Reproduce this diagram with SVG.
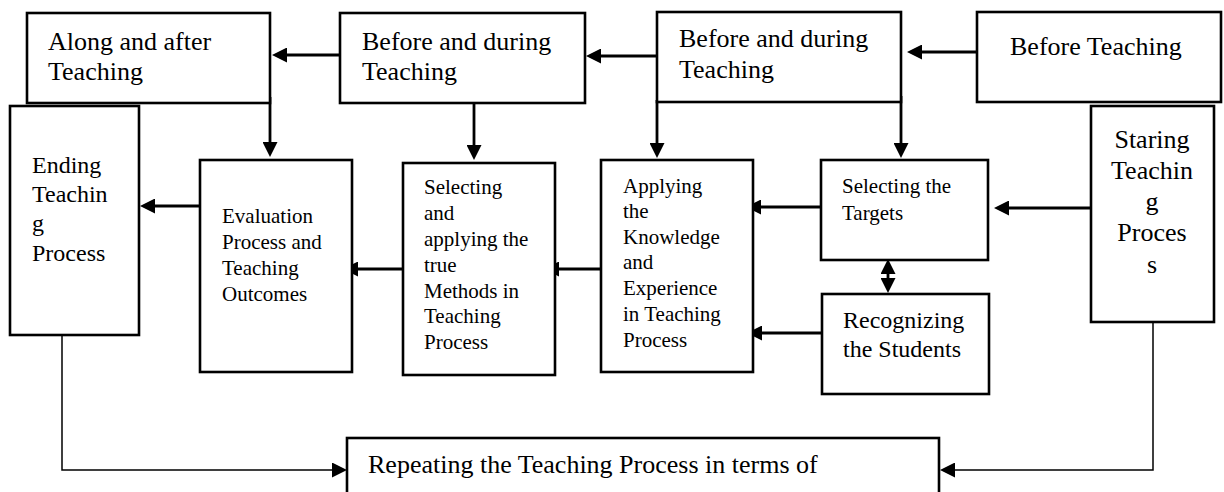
<svg xmlns="http://www.w3.org/2000/svg" width="1224" height="492" viewBox="0 0 1224 492">
<style>
.box{fill:#fff;stroke:#000;stroke-width:2.6}
.t{font-family:"Liberation Serif","Times New Roman",serif;fill:#000}
.big{font-size:26px}
.mid{font-size:24px}
.sm{font-size:21px}
.c{fill:none;stroke:#000;stroke-width:2.8}
.thin{fill:none;stroke:#000;stroke-width:1.5}
</style>
<defs>
<marker id="ah" markerUnits="userSpaceOnUse" markerWidth="15" markerHeight="15" viewBox="0 0 15 15" refX="10" refY="7.5" orient="auto-start-reverse"><path d="M0,0 L15,7.5 L0,15 z" fill="#000"/></marker>
</defs>
<rect width="1224" height="492" fill="#fff"/>
<g id="connectors">
<line class="c" x1="977" y1="52" x2="912" y2="52" marker-end="url(#ah)"/>
<line class="c" x1="657" y1="56" x2="591" y2="56" marker-end="url(#ah)"/>
<line class="c" x1="340" y1="55" x2="277" y2="55" marker-end="url(#ah)"/>
<line class="c" x1="270" y1="97" x2="270" y2="152" marker-end="url(#ah)"/>
<line class="c" x1="474" y1="99" x2="474" y2="155" marker-end="url(#ah)"/>
<line class="c" x1="657" y1="100" x2="657" y2="153" marker-end="url(#ah)"/>
<line class="c" x1="901" y1="96" x2="901" y2="153" marker-end="url(#ah)"/>
<line class="c" x1="1091" y1="208" x2="999" y2="208" marker-end="url(#ah)"/>
<line class="c" x1="821" y1="207" x2="751" y2="207" marker-end="url(#ah)"/>
<line class="c" x1="822" y1="333" x2="752" y2="333" marker-end="url(#ah)"/>
<line class="c" x1="601" y1="269" x2="549" y2="269" marker-end="url(#ah)"/>
<line class="c" x1="403" y1="269" x2="348" y2="269" marker-end="url(#ah)"/>
<line class="c" x1="200" y1="206" x2="145" y2="206" marker-end="url(#ah)"/>
<line class="c" x1="888" y1="264" x2="888" y2="288" marker-start="url(#ah)" marker-end="url(#ah)"/>
<polyline class="thin" points="62,335 62,470 342,470" marker-end="url(#ah)"/>
<polyline class="thin" points="1153,322 1153,470 945,470" marker-end="url(#ah)"/>
</g>
<g id="along-after">
<rect class="box" x="27" y="13" width="243" height="90"/>
<text class="t big" x="48" y="50">Along and after</text>
<text class="t big" x="48" y="80">Teaching</text>
</g>
<g id="before-during-1">
<rect class="box" x="340" y="13" width="245" height="90"/>
<text class="t big" x="362" y="50">Before and during</text>
<text class="t big" x="362" y="80">Teaching</text>
</g>
<g id="before-during-2">
<rect class="box" x="657" y="12" width="244" height="90"/>
<text class="t big" x="679" y="47">Before and during</text>
<text class="t big" x="679" y="78">Teaching</text>
</g>
<g id="before-teaching">
<rect class="box" x="977" y="12" width="244" height="90"/>
<text class="t big" x="1010" y="55">Before Teaching</text>
</g>
<g id="ending">
<rect class="box" x="10" y="106" width="129" height="229"/>
<text class="t mid" x="32" y="173">Ending</text>
<text class="t mid" x="32" y="202">Teachin</text>
<text class="t mid" x="32" y="231">g</text>
<text class="t mid" x="32" y="261">Process</text>
</g>
<g id="evaluation">
<rect class="box" x="200" y="160" width="152" height="212"/>
<text class="t sm" x="222" y="223">Evaluation</text>
<text class="t sm" x="222" y="249">Process and</text>
<text class="t sm" x="222" y="275">Teaching</text>
<text class="t sm" x="222" y="301">Outcomes</text>
</g>
<g id="selecting-methods">
<rect class="box" x="403" y="163" width="152" height="212"/>
<text class="t sm" x="424" y="194">Selecting</text>
<text class="t sm" x="424" y="220">and</text>
<text class="t sm" x="424" y="246">applying the</text>
<text class="t sm" x="424" y="272">true</text>
<text class="t sm" x="424" y="298">Methods in</text>
<text class="t sm" x="424" y="323">Teaching</text>
<text class="t sm" x="424" y="349">Process</text>
</g>
<g id="applying">
<rect class="box" x="601" y="160" width="152" height="212"/>
<text class="t sm" x="623" y="193">Applying</text>
<text class="t sm" x="623" y="218">the</text>
<text class="t sm" x="623" y="244">Knowledge</text>
<text class="t sm" x="623" y="269">and</text>
<text class="t sm" x="623" y="295">Experience</text>
<text class="t sm" x="623" y="321">in Teaching</text>
<text class="t sm" x="623" y="347">Process</text>
</g>
<g id="targets">
<rect class="box" x="821" y="160" width="167" height="100"/>
<text class="t sm" x="842" y="193">Selecting the</text>
<text class="t sm" x="842" y="220">Targets</text>
</g>
<g id="recognizing">
<rect class="box" x="822" y="294" width="167" height="100"/>
<text class="t mid" x="843" y="328">Recognizing</text>
<text class="t mid" x="843" y="357">the Students</text>
</g>
<g id="staring">
<rect class="box" x="1091" y="106" width="123" height="216"/>
<g class="t big" text-anchor="middle">
<text x="1152" y="148">Staring</text>
<text x="1152" y="179">Teachin</text>
<text x="1152" y="210">g</text>
<text x="1152" y="241">Proces</text>
<text x="1152" y="273">s</text>
</g>
</g>
<g id="repeating">
<rect class="box" x="347" y="438" width="592" height="80"/>
<text class="t big" x="368" y="473">Repeating the Teaching Process in terms of</text>
</g>
</svg>
